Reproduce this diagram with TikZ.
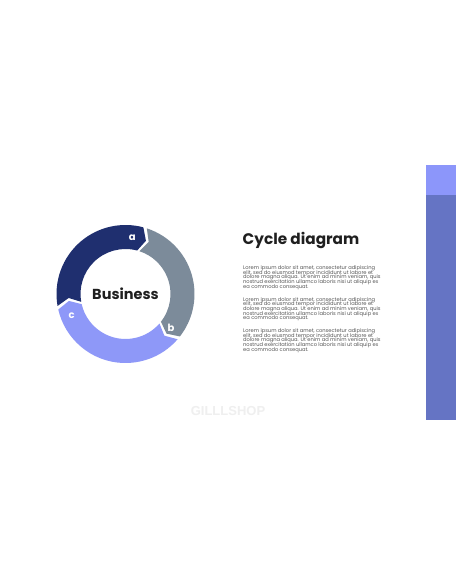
\documentclass[tikz,border=0pt]{standalone}
\usepackage{fontspec}
\newfontfamily\pop{Poppins}
\newfontfamily\lib{Liberation Sans}
\definecolor{segA}{HTML}{1F2F6F}
\definecolor{segB}{HTML}{7C8B9A}
\definecolor{segC}{HTML}{8E98F8}
\definecolor{barLight}{HTML}{8C96FA}
\definecolor{barDark}{HTML}{6574C4}
\definecolor{bodygray}{HTML}{555555}
\definecolor{wm}{HTML}{EFEFEF}
\tikzset{
  seglabel/.style={font=\pop\bfseries\fontsize{10}{10}\selectfont, text=white, inner sep=0pt},
  bodytext/.style={font={\pop\fontsize{5.15}{4.67}\selectfont\lineskiplimit=-20pt\lineskip=0pt}, text=bodygray, align=left, anchor=base west, inner sep=0pt},
}
\newcommand{\ringseg}[3]{%
  \fill[#3] (#1:69) arc[start angle=#1, end angle=#2, radius=69]
    -- ({#2-6}:57) -- (#2:45) arc[start angle=#2, end angle=#1, radius=45]
    -- ({#1-6}:57) -- cycle;}
\begin{document}
\begin{tikzpicture}[x=1pt,y=1pt]
\useasboundingbox (0,0) rectangle (456,586);
\fill[white] (0,0) rectangle (456,586);
% side bar
\fill[barDark] (425.7,166) rectangle (456,391);
\fill[barLight] (425.7,391) rectangle (456,421);
% ring
\begin{scope}[shift={(125.5,292)}]
  \ringseg{190}{75}{segA}
  \ringseg{72}{-38}{segB}
  \ringseg{-41}{-167}{segC}
  \node[seglabel] (la) at (83:56.5) {a};
  \node[seglabel] (lb) at (-37:57) {b};
  \node[seglabel] (lc) at (202:58) {c};
  \node[font=\pop\bfseries\fontsize{14.5}{14.5}\selectfont, text=black!88, inner sep=0pt] (biz) at (0,0) {Business};
\end{scope}
% title
\node[font=\pop\bfseries\fontsize{15.3}{15.3}\selectfont, text=black!88, anchor=base west, inner sep=0pt] (title) at (242.5,341) {Cycle diagram};
% body text (base anchor = baseline of last line)
\node[bodytext] (p1) at (243,297.8) {Lorem ipsum dolor sit amet, consectetur adipiscing\\elit, sed do eiusmod tempor incididunt ut labore et\\dolore magna aliqua. Ut enim ad minim veniam, quis\\nostrud exercitation ullamco laboris nisi ut aliquip ex\\ea commodo consequat.};
\node[bodytext] (p2) at (243,266.3) {Lorem ipsum dolor sit amet, consectetur adipiscing\\elit, sed do eiusmod tempor incididunt ut labore et\\dolore magna aliqua. Ut enim ad minim veniam, quis\\nostrud exercitation ullamco laboris nisi ut aliquip ex\\ea commodo consequat.};
\node[bodytext] (p3) at (243,234.8) {Lorem ipsum dolor sit amet, consectetur adipiscing\\elit, sed do eiusmod tempor incididunt ut labore et\\dolore magna aliqua. Ut enim ad minim veniam, quis\\nostrud exercitation ullamco laboris nisi ut aliquip ex\\ea commodo consequat.};
% watermark
\node[font=\lib\bfseries\fontsize{13}{13}\selectfont, text=wm, inner sep=0pt] (wmark) at (228,175) {GILLLSHOP};
\end{tikzpicture}
\end{document}
